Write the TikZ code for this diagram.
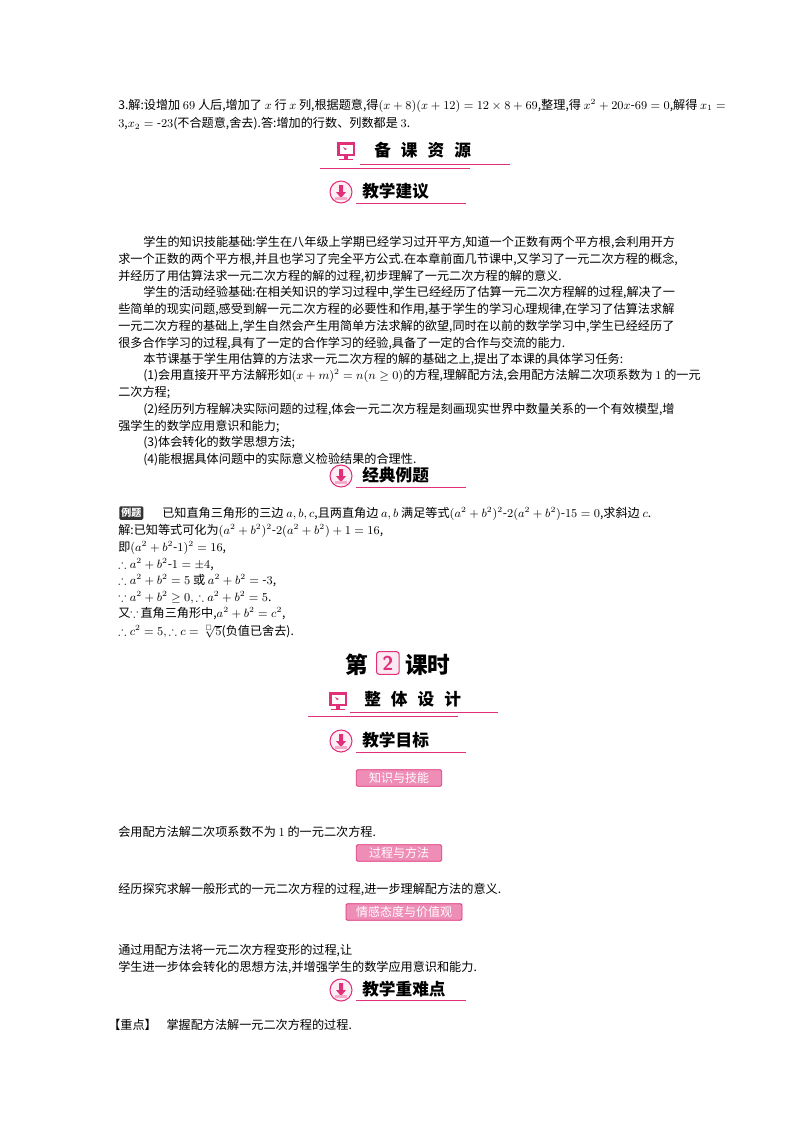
\documentclass[tikz,border=0pt]{standalone}
\usepackage{amsmath,amssymb}
\usepackage{fontspec}
\setmainfont{Noto Sans CJK SC}
\usetikzlibrary{calc}
\definecolor{pk}{HTML}{E0307A}
\tikzset{
  txt/.style={anchor=west,inner sep=0pt,font=\fontsize{9.1}{10}\selectfont},
  hd/.style={anchor=west,inner sep=0pt,font=\bfseries\fontsize{12.5}{14}\selectfont},
  ul/.style={pk,line width=0.6pt},
  tag/.style={draw=pk,line width=0.6pt,fill=pk!55,rounded corners=1pt,text=white,inner sep=1.5pt,minimum height=12.5pt,font=\fontsize{9}{10}\selectfont},
  pics/monitor/.style={code={
    \fill[pk] (-9,-8) rectangle (9,6);
    \fill[white] (-6.5,-5.5) rectangle (6.5,3.5);
    \fill[pk] (-3,-3) -- (1,-1) -- (-1,0) -- cycle;
    \fill[pk] (-2,6) rectangle (2,8.5);
    \fill[pk] (-7,8.5) rectangle (7,10);
  }},
  pics/downic/.style={code={
    \draw[pk,line width=0.8pt,fill=pk!8] (0,0) circle (11);
    \fill[pk] (-2,-7) rectangle (2,0) -- (5,0) -- (0,6) -- (-5,0) -- (-2,0);
    \fill[pk!40] (-6,5) rectangle (6,8);
  }}
}
\begin{document}
\begin{tikzpicture}[x=0.75pt,y=-0.75pt]
\useasboundingbox (0,0) rectangle (800,1132);
\node[txt] (a1) at (118,106) {3.解:设增加 $69$ 人后,增加了 $x$ 行 $x$ 列,根据题意,得$(x+8)(x+12)=12\times8+69$,整理,得 $x^2+20x\text{-}69=0$,解得 $x_1=$};
\node[txt] (a2) at (118,124) {$3$,$x_2=\text{-}23$(不合题意,舍去).答:增加的行数、列数都是 $3$.};
\pic at (346,150) {monitor};
\node[hd] (h1) at (374,150) {备\hspace{0.6em}课\hspace{0.6em}资\hspace{0.6em}源};
\draw[ul] (360,164) -- (510,164);
\draw[ul] (320,168) -- (470,168);
\pic at (341,192) {downic};
\node[hd] (h2) at (362,191) {教学建议};
\draw[ul] (356,203) -- (466,203);
\node[txt] (p1) at (143,242) {学生的知识技能基础:学生在八年级上学期已经学习过开平方,知道一个正数有两个平方根,会利用开方};
\node[txt] (p2) at (118,259) {求一个正数的两个平方根,并且也学习了完全平方公式.在本章前面几节课中,又学习了一元二次方程的概念,};
\node[txt] (p3) at (118,276) {并经历了用估算法求一元二次方程的解的过程,初步理解了一元二次方程的解的意义.};
\node[txt] (p4) at (143,292) {学生的活动经验基础:在相关知识的学习过程中,学生已经经历了估算一元二次方程解的过程,解决了一};
\node[txt] (p5) at (118,309) {些简单的现实问题,感受到解一元二次方程的必要性和作用,基于学生的学习心理规律,在学习了估算法求解};
\node[txt] (p6) at (118,326) {一元二次方程的基础上,学生自然会产生用简单方法求解的欲望,同时在以前的数学学习中,学生已经经历了};
\node[txt] (p7) at (118,343) {很多合作学习的过程,具有了一定的合作学习的经验,具备了一定的合作与交流的能力.};
\node[txt] (p8) at (143,359) {本节课基于学生用估算的方法求一元二次方程的解的基础之上,提出了本课的具体学习任务:};
\node[txt] (p9) at (143,376) {(1)会用直接开平方法解形如$(x+m)^2=n(n\geq0)$的方程,理解配方法,会用配方法解二次项系数为 $1$ 的一元};
\node[txt] (p10) at (118,393) {二次方程;};
\node[txt] (p11) at (143,410) {(2)经历列方程解决实际问题的过程,体会一元二次方程是刻画现实世界中数量关系的一个有效模型,增};
\node[txt] (p12) at (118,426) {强学生的数学应用意识和能力;};
\node[txt] (p13) at (143,443) {(3)体会转化的数学思想方法;};
\node[txt] (p14) at (143,460) {(4)能根据具体问题中的实际意义检验结果的合理性.};
\pic at (341,476) {downic};
\node[hd] (h3) at (362,475) {经典例题};
\draw[ul] (356,487) -- (466,487);
\node[fill=black!80,text=white,rounded corners=1pt,inner sep=1.5pt,font=\bfseries\fontsize{7.5}{8}\selectfont,anchor=west] (b1) at (119,513) {例题};
\node[txt] (e1) at (162,514) {已知直角三角形的三边 $a,b,c$,且两直角边 $a,b$ 满足等式$(a^2+b^2)^2\text{-}2(a^2+b^2)\text{-}15=0$,求斜边 $c$.};
\node[txt] (e2) at (118,531) {解:已知等式可化为$(a^2+b^2)^2\text{-}2(a^2+b^2)+1=16$,};
\node[txt] (e3) at (118,548) {即$(a^2+b^2\text{-}1)^2=16$,};
\node[txt] (e4) at (118,565) {$\therefore a^2+b^2\text{-}1=\pm4$,};
\node[txt] (e5) at (118,581) {$\therefore a^2+b^2=5$ 或 $a^2+b^2=\text{-}3$,};
\node[txt] (e6) at (118,598) {$\because a^2+b^2\geq0,\therefore a^2+b^2=5$.};
\node[txt] (e7) at (118,614) {又$\because\,$直角三角形中,$a^2+b^2=c^2$,};
\node[txt] (e8) at (118,632) {$\therefore c^2=5,\therefore c=\smash{\sqrt[\scriptscriptstyle\Box]{5}}$(负值已舍去).};
\node[anchor=west,inner sep=0pt,font=\bfseries\fontsize{17}{18}\selectfont] (t1) at (345,665) {第};
\node[draw=pk,line width=0.8pt,fill=pk!10,rounded corners=2pt,text=pk,font=\bfseries\sffamily\fontsize{15}{16}\selectfont,inner sep=1pt,minimum width=17pt,minimum height=17pt,anchor=west] (t2) at (376,663) {2};
\node[anchor=west,inner sep=0pt,font=\bfseries\fontsize{17}{18}\selectfont] (t3) at (405,665) {课时};
\pic at (338,700) {monitor};
\node[hd] (h4) at (364,699) {整\hspace{0.6em}体\hspace{0.6em}设\hspace{0.6em}计};
\draw[ul] (350,712) -- (498,712);
\draw[ul] (308,716) -- (458,716);
\pic at (341,741) {downic};
\node[hd] (h5) at (362,740) {教学目标};
\draw[ul] (356,752) -- (466,752);
\node[tag,minimum width=64pt] (g1) at (399,778) {知识与技能};
\node[txt] (g2) at (118,832) {会用配方法解二次项系数不为 $1$ 的一元二次方程.};
\node[tag,minimum width=64pt] (g3) at (399,853) {过程与方法};
\node[txt] (g4) at (118,889) {经历探究求解一般形式的一元二次方程的过程,进一步理解配方法的意义.};
\node[tag,minimum width=87pt] (g5) at (404,912) {情感态度与价值观};
\node[txt] (g6) at (118,950) {通过用配方法将一元二次方程变形的过程,让};
\node[txt] (g7) at (118,967) {学生进一步体会转化的思想方法,并增强学生的数学应用意识和能力.};
\pic at (341,990) {downic};
\node[hd] (h6) at (362,989) {教学重难点};
\draw[ul] (356,1000) -- (466,1000);
\node[txt] (k1) at (108,1025) {【重点】\hspace{0.8em}掌握配方法解一元二次方程的过程.};
\end{tikzpicture}
\end{document}
